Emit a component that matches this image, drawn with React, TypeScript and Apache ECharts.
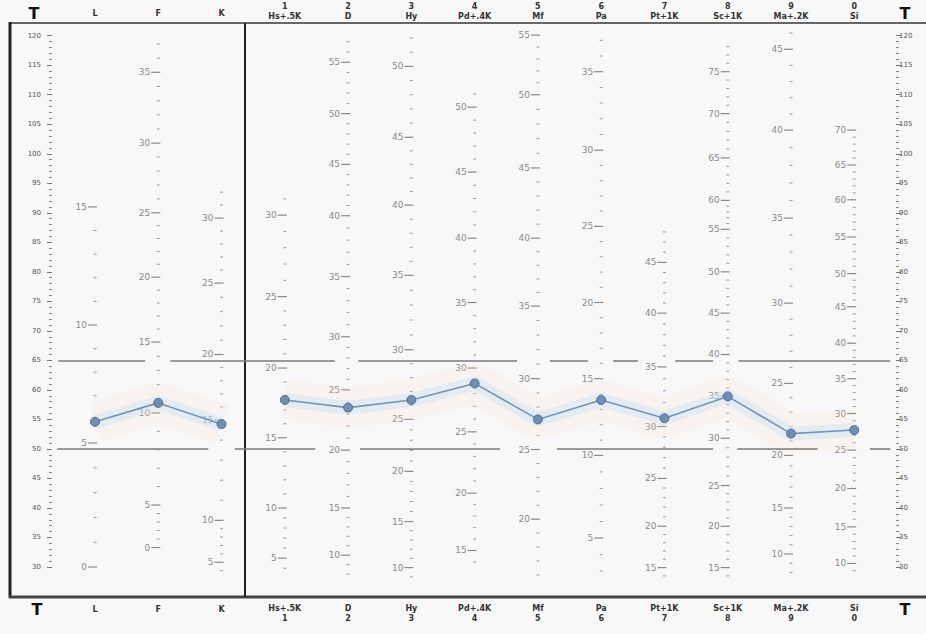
import React, { useEffect, useRef } from "react";
import * as echarts from "echarts";

// ---------- data ----------
const scaleNames = ["L", "F", "K", "Hs+.5K", "D", "Hy", "Pd+.4K", "Mf", "Pa", "Pt+1K", "Sc+1K", "Ma+.2K", "Si"];
const scaleNumbers = ["", "", "", "1", "2", "3", "4", "5", "6", "7", "8", "9", "0"];

// T scores of the profile
const validityT = [54.6, 57.8, 54.2];
const clinicalT = [58.3, 57.0, 58.3, 61.1, 55.0, 58.3, 55.2, 58.9, 52.6, 53.2];

// raw score -> T anchors per scale column
const anchorsL = [[0, 30], [5, 51], [10, 71], [15, 91]];
const anchorsF = [[0, 33.3], [5, 40.5], [10, 56.1], [15, 68.1], [20, 79.1], [25, 90], [30, 101.8], [35, 113.8]];
const anchorsK = [[5, 30.8], [10, 37.9], [15, 54.9], [20, 66], [25, 78.1], [30, 89.1]];
const anchorsHs = [[5, 31.5], [10, 40], [15, 51.9], [20, 63.7], [25, 75.8], [30, 89.6]];
const anchorsD = [[10, 32], [15, 40], [20, 49.8], [25, 60], [30, 69], [35, 79.2], [40, 89.5], [45, 98.2], [50, 106.8], [55, 115.5]];
const anchorsHy = [[10, 29.9], [15, 37.7], [20, 46.2], [25, 55], [30, 66.8], [35, 79.4], [40, 91.3], [45, 102.8], [50, 114.8]];
const anchorsPd = [[15, 32.8], [20, 42.5], [25, 52.9], [30, 63.7], [35, 74.8], [40, 85.7], [45, 96.9], [50, 107.9]];
const anchorsMf = [[20, 38.1], [25, 49.9], [30, 61.9], [35, 74.2], [40, 85.7], [45, 97.6], [50, 110], [55, 120.1]];
const anchorsPa = [[5, 34.9], [10, 48.9], [15, 61.9], [20, 74.8], [25, 87.7], [30, 100.6], [35, 113.9]];
const anchorsPt = [[15, 29.9], [20, 36.9], [25, 45], [30, 53.8], [35, 63.9], [40, 73], [45, 81.6]];
const anchorsSc = [[15, 29.9], [20, 36.9], [25, 43.8], [30, 51.8], [35, 58.9], [40, 66], [45, 73], [50, 80], [55, 87.2], [60, 92.1], [65, 99.3], [70, 106.8], [75, 113.9]];
const anchorsMa = [[10, 32.2], [15, 40], [20, 48.9], [25, 61.1], [30, 74.7], [35, 89.1], [40, 104], [45, 117.7]];
const anchorsSi = [[10, 30.6], [15, 36.8], [20, 43.3], [25, 49.8], [30, 56], [35, 61.9], [40, 67.9], [45, 74.1], [50, 79.7], [55, 85.9], [60, 92.2], [65, 98.1]];

// raw score extent of each column's tick scale
const rawRanges = [[0, 15], [0, 37], [4, 32], [4, 31], [8, 57], [9, 52], [14, 51], [16, 55], [3, 37], [14, 48], [14, 78], [8, 46], [9, 70]];

// T reference lines (with the breaks of the printed form, in column units)
const line65Segments = [[-0.58, 0.79], [1.19, 3.79], [4.16, 6.67], [7.19, 7.79], [8.19, 8.58], [9.17, 9.77], [10.17, 12.57]];
const line50Segments = [[-0.6, 1.79], [2.21, 3.48], [4.19, 6.4], [7.3, 9.77], [10.15, 11.42], [12.25, 12.57]];

const allAnchors = [anchorsL, anchorsF, anchorsK, anchorsHs, anchorsD, anchorsHy, anchorsPd, anchorsMf, anchorsPa, anchorsPt, anchorsSc, anchorsMa, anchorsSi];

function interpT(anchors: number[][], r: number): number {
  let i = 0;
  if (r <= anchors[0][0]) i = 0;
  else if (r >= anchors[anchors.length - 1][0]) i = anchors.length - 2;
  else {
    while (!(r >= anchors[i][0] && r <= anchors[i + 1][0])) i++;
  }
  const [r0, t0] = anchors[i];
  const [r1, t1] = anchors[i + 1];
  return t0 + ((r - r0) * (t1 - t0)) / (r1 - r0);
}

function buildTicks() {
  const out: number[][] = [];
  allAnchors.forEach((a, c) => {
    const [lo, hi] = rawRanges[c];
    for (let r = lo; r <= hi; r++) {
      out.push([c, interpT(a, r), r % 5 === 0 ? 1 : 0, r]);
    }
  });
  return out;
}

const FONT = "DejaVu Sans";

export default function App() {
  const ref = useRef<HTMLDivElement>(null);
  useEffect(() => {
    document.body.style.margin = "0";
    if (!ref.current) return;
    const chart = echarts.init(ref.current, undefined, { renderer: "svg" });
    const ticks = buildTicks();

    const refLines: any[] = [];
    line65Segments.forEach((s) => refLines.push([{ coord: [s[0], 65] }, { coord: [s[1], 65] }]));
    line50Segments.forEach((s) => refLines.push([{ coord: [s[0], 50] }, { coord: [s[1], 50] }]));

    const lineStyle = { color: "#6f95bd", width: 1.6 };
    const itemStyle = { color: "#6d8fb6", borderColor: "#4e6d93", borderWidth: 1 };

    const option: any = {
      animation: false,
      backgroundColor: "#f8f8f8",
      grid: { left: 52, right: 30, top: 35.7, bottom: 67 },
      xAxis: { type: "value", min: -0.68, max: 12.66, show: false },
      yAxis: [0, 1].map((i) => ({
        type: "value",
        position: i === 0 ? "left" : "right",
        min: 30,
        max: 120,
        interval: 5,
        splitLine: { show: false },
        axisLine: { show: false, onZero: false },
        axisTick: { show: true, length: 5, lineStyle: { color: "#777" } },
        minorTick: { show: true, splitNumber: 5, length: 3, lineStyle: { color: "#888" } },
        axisLabel: { fontSize: 7, color: "#555", fontFamily: FONT, margin: i === 0 ? 11 : 3 },
      })),
      graphic: [
        { type: "line", shape: { x1: 10, y1: 23, x2: 926, y2: 23 }, style: { stroke: "#666", lineWidth: 2 } },
        { type: "line", shape: { x1: 10, y1: 22, x2: 10, y2: 598 }, style: { stroke: "#222", lineWidth: 3 } },
        { type: "line", shape: { x1: 9, y1: 597, x2: 926, y2: 597 }, style: { stroke: "#444", lineWidth: 3 } },
        { type: "line", shape: { x1: 245, y1: 23, x2: 245, y2: 597 }, style: { stroke: "#222", lineWidth: 2 } },
        { type: "text", style: { text: "T", x: 34, y: 13, align: "center", verticalAlign: "middle", fontSize: 16, fontWeight: "bold", fill: "#111", fontFamily: FONT } },
        { type: "text", style: { text: "T", x: 905, y: 13, align: "center", verticalAlign: "middle", fontSize: 16, fontWeight: "bold", fill: "#111", fontFamily: FONT } },
        { type: "text", style: { text: "T", x: 37, y: 609, align: "center", verticalAlign: "middle", fontSize: 16, fontWeight: "bold", fill: "#111", fontFamily: FONT } },
        { type: "text", style: { text: "T", x: 905, y: 609, align: "center", verticalAlign: "middle", fontSize: 16, fontWeight: "bold", fill: "#111", fontFamily: FONT } },
      ],
      series: [
        {
          type: "custom",
          name: "rawScales",
          silent: true,
          data: ticks,
          encode: { x: 0, y: 1 },
          renderItem: (params: any, api: any) => {
            const c = api.value(0);
            const t = api.value(1);
            const kind = api.value(2);
            const p = api.coord([c, t]);
            if (kind === 1) {
              return {
                type: "group",
                children: [
                  { type: "line", shape: { x1: p[0] - 7, y1: p[1], x2: p[0] + 2, y2: p[1] }, style: { stroke: "#8a8a8a", lineWidth: 1.2 } },
                  { type: "text", style: { text: String(api.value(3)), x: p[0] - 8, y: p[1], align: "right", verticalAlign: "middle", fontSize: 9, fill: "#8a8a8a", fontFamily: FONT } },
                ],
              };
            }
            return { type: "line", shape: { x1: p[0] - 1.5, y1: p[1], x2: p[0] + 1.5, y2: p[1] }, style: { stroke: "#9a9a9a", lineWidth: 1 } };
          },
          z: 1,
        },
        {
          type: "custom",
          name: "headers",
          silent: true,
          data: scaleNames.map((_, c) => [c, 120]),
          encode: { x: 0, y: 1 },
          renderItem: (params: any, api: any) => {
            const c = api.value(0);
            const p = api.coord([c, 120]);
            const b = api.coord([c, 30]);
            const i = params.dataIndex;
            const st = { align: "center", verticalAlign: "middle", fontSize: 8, fontWeight: "bold", fill: "#333", fontFamily: FONT };
            const children: any[] = [];
            if (scaleNumbers[i] === "") {
              children.push({ type: "text", style: { ...st, text: scaleNames[i], x: p[0], y: 13 } });
              children.push({ type: "text", style: { ...st, text: scaleNames[i], x: b[0], y: 609 } });
            } else {
              children.push({ type: "text", style: { ...st, text: scaleNumbers[i], x: p[0], y: 6 } });
              children.push({ type: "text", style: { ...st, text: scaleNames[i], x: p[0], y: 16 } });
              children.push({ type: "text", style: { ...st, text: scaleNames[i], x: b[0], y: 608 } });
              children.push({ type: "text", style: { ...st, text: scaleNumbers[i], x: b[0], y: 618 } });
            }
            return { type: "group", children };
          },
        },
        {
          type: "line",
          name: "refLines",
          data: [],
          markLine: {
            silent: true,
            symbol: ["none", "none"],
            label: { show: false },
            lineStyle: { color: "#7a7a7a", width: 1.6, type: "solid" },
            data: refLines,
          },
        },
        ...[validityT.map((v, i) => [i, v]), clinicalT.map((v, i) => [i + 3, v])].flatMap((d) => [
          { type: "line", data: d, symbol: "none", silent: true, lineStyle: { color: "rgba(255,220,190,0.16)", width: 40 }, z: 2 },
          { type: "line", data: d, symbol: "none", silent: true, lineStyle: { color: "rgba(200,225,245,0.4)", width: 14 }, z: 3 },
          { type: "line", data: d, symbol: "circle", symbolSize: 9, lineStyle, itemStyle, z: 5 },
        ]),
      ],
    };
    chart.setOption(option);
    return () => chart.dispose();
  }, []);
  return <div ref={ref} style={{ width: 926, height: 634 }} />;
}
